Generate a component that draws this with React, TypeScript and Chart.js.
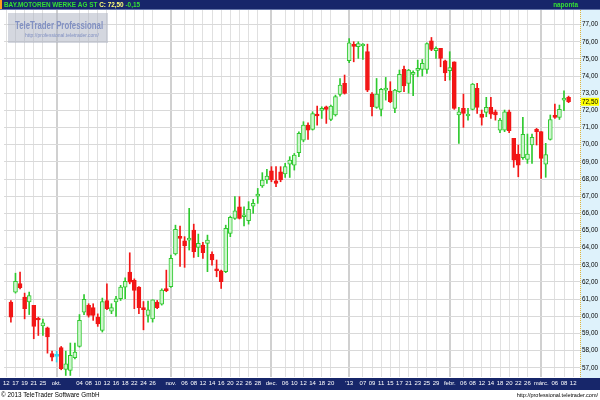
import { useEffect, useRef } from 'react';
import { Chart, registerables } from 'chart.js';

Chart.register(...registerables);

// ---- data (BMW daily candles, Sep 2012 - Mar 2013) ----
const openP = [
  60.83, 61.41, 61.90, 61.12, 60.83, 60.63, 59.85, 59.44, 59.33, 57.82,
  57.66, 58.17, 56.90, 56.84, 57.58, 58.24, 60.24, 60.63, 60.50, 59.95,
  59.17, 60.92, 60.30, 60.83, 61.02, 61.70, 62.57, 62.09, 61.70, 60.50,
  60.05, 59.85, 60.83, 60.71, 61.62, 61.72, 63.63, 64.60, 64.40, 64.44,
  65.02, 64.01, 64.15, 64.25, 63.61, 62.72, 62.65, 62.60, 64.83, 65.70,
  66.38, 65.80, 65.57, 66.42, 67.00, 67.59, 67.94, 68.48, 67.90, 68.42,
  68.29, 68.87, 68.81, 69.53, 70.27, 71.14, 70.89, 71.78, 72.00, 72.21,
  71.47, 71.73, 72.93, 73.57, 74.89, 75.81, 75.71, 75.75, 75.42, 72.95,
  72.17, 72.06, 73.18, 73.12, 72.12, 73.09, 74.39, 73.57, 74.10, 74.33,
  74.39, 74.39, 76.06, 75.48, 75.61, 74.89, 74.31, 74.83, 71.73, 72.12,
  71.67, 72.06, 73.28, 71.78, 71.88, 72.17, 71.92, 70.85, 70.85, 71.92,
  70.37, 69.45, 69.24, 69.14, 69.98, 70.89, 70.76, 68.87, 70.31, 71.67,
  71.59, 72.60, 72.76,
];
const highP = [
  60.92, 62.51, 62.57, 61.35, 61.41, 60.63, 59.95, 59.83, 59.37, 57.97,
  57.97, 58.24, 57.97, 58.44, 58.44, 60.10, 61.27, 60.73, 60.73, 60.14,
  61.06, 61.89, 60.73, 61.16, 61.80, 62.24, 63.70, 62.18, 61.73, 60.86,
  60.88, 60.96, 60.92, 61.60, 62.69, 63.57, 65.31, 65.26, 64.64, 66.29,
  65.37, 64.79, 64.31, 64.73, 63.76, 63.28, 62.69, 65.31, 65.84, 66.97,
  66.97, 66.38, 66.68, 66.81, 67.45, 68.37, 68.56, 68.72, 68.72, 68.72,
  68.91, 69.30, 69.49, 70.75, 71.34, 71.28, 71.92, 72.25, 72.21, 72.25,
  72.31, 72.89, 73.86, 74.06, 76.19, 76.00, 76.00, 75.90, 75.86, 73.03,
  73.86, 73.28, 73.92, 73.67, 73.22, 74.35, 74.58, 74.39, 74.30, 74.93,
  74.97, 75.94, 76.25, 75.71, 75.61, 74.93, 75.42, 74.83, 72.17, 72.95,
  72.12, 73.57, 73.57, 72.02, 72.76, 72.76, 72.02, 71.53, 72.02, 72.02,
  70.37, 69.98, 71.59, 70.62, 70.62, 70.95, 70.76, 70.08, 71.73, 72.37,
  72.31, 73.14, 72.83,
];
const lowP = [
  59.66, 61.35, 61.60, 59.85, 60.10, 58.69, 58.88, 58.88, 57.85, 57.39,
  57.33, 56.88, 56.55, 56.55, 57.52, 58.20, 60.10, 59.95, 59.76, 59.41,
  59.08, 60.38, 60.15, 59.99, 60.92, 61.02, 61.89, 60.44, 60.15, 59.21,
  59.66, 59.66, 60.44, 60.65, 61.43, 61.68, 63.57, 62.90, 62.85, 63.86,
  63.43, 63.47, 63.37, 62.60, 62.98, 62.30, 61.62, 62.54, 64.64, 65.65,
  65.67, 65.26, 65.37, 66.00, 66.58, 67.51, 67.74, 67.84, 67.55, 67.84,
  68.09, 68.09, 68.52, 69.30, 70.17, 70.31, 70.85, 71.14, 71.53, 71.24,
  71.40, 71.67, 72.83, 72.95, 74.78, 74.83, 75.03, 74.97, 73.09, 71.67,
  72.12, 71.67, 72.60, 72.45, 71.86, 73.05, 73.09, 73.00, 72.85, 73.96,
  74.00, 74.16, 75.48, 75.03, 74.54, 73.73, 73.77, 72.06, 70.08, 71.01,
  71.43, 72.02, 71.82, 71.14, 71.63, 71.53, 71.43, 70.70, 70.76, 70.70,
  68.68, 68.13, 69.14, 68.91, 68.91, 69.98, 68.04, 68.10, 70.27, 71.53,
  71.47, 71.98, 72.45,
];
const closeP = [
  59.95, 62.03, 61.66, 60.44, 61.21, 59.41, 59.78, 59.62, 58.79, 57.62,
  57.66, 56.94, 57.23, 57.72, 57.91, 59.76, 60.98, 60.05, 60.05, 59.56,
  60.86, 60.44, 60.50, 61.02, 61.70, 62.03, 61.99, 61.50, 60.50, 60.38,
  60.38, 60.96, 60.50, 61.53, 61.49, 63.37, 65.06, 64.54, 64.11, 64.48,
  63.76, 64.25, 63.70, 64.44, 63.28, 62.65, 62.01, 65.12, 65.76, 66.15,
  65.70, 65.84, 66.23, 66.58, 67.08, 67.94, 68.17, 67.94, 67.74, 67.94,
  68.72, 69.10, 69.40, 70.66, 71.14, 70.85, 71.82, 71.67, 72.06, 72.06,
  72.25, 72.80, 73.47, 72.99, 75.94, 75.73, 75.90, 75.81, 73.18, 72.21,
  72.95, 73.22, 73.24, 72.50, 73.18, 74.10, 73.42, 74.35, 74.20, 74.39,
  74.74, 75.90, 75.55, 75.61, 75.03, 74.19, 74.50, 72.12, 71.92, 71.82,
  71.78, 73.53, 72.17, 71.59, 72.17, 71.78, 71.73, 71.43, 71.92, 70.81,
  69.10, 68.81, 70.60, 69.45, 70.43, 70.76, 69.20, 69.43, 71.47, 71.59,
  72.06, 72.65, 72.50,
];

// x-axis day slots (one per trading day shown; '' = unlabelled day)
const xLabels = [
  '12', '', '17', '', '19', '', '21', '', '25', '', '', 'okt.', '', '', '', '', '04', '', '08', '',
  '10', '', '12', '', '16', '', '18', '', '22', '', '24', '', '26', '', '', '', 'nov.', '', '', '06',
  '', '08', '', '12', '', '14', '', '16', '', '20', '', '22', '', '26', '', '28', '', '', 'dec.', '',
  '', '06', '', '10', '', '12', '', '14', '', '18', '', '20', '', '', '', "'13", '', '', '07', '',
  '09', '', '11', '', '15', '', '17', '', '21', '', '23', '', '25', '', '29', '', '', 'febr.', '', '',
  '06', '', '08', '', '12', '', '14', '', '18', '', '20', '', '22', '', '26', '', '', 'márc.', '', '',
  '06', '', '08', '', '12', '',
];
const monthLabels = ['okt.', 'nov.', 'dec.', "'13", 'febr.', 'márc.'];
const firstCandleSlot = 1;

const yMin = 56.46;
const yMax = 77.85;

const titleText = 'BAY.MOTOREN WERKE AG ST';
const closeText = 'C: 72,50';
const changeText = '-0,15';
const lastPrice = 72.5;
const periodText = 'naponta';
const copyrightText = '© 2013 TeleTrader Software GmbH';
const urlText = 'http://professional.teletrader.com/';
const brandText = 'TeleTrader Professional';

const FONT = "'Liberation Sans', Arial, sans-serif";
const NAVY = '#17266a';
const UP_FILL = '#cdf5cd';
const UP_LINE = '#2fc92f';
const DOWN = '#f21616';
const FLAT = '#30d6ee';

const fmt = (v: number) => v.toFixed(2).replace('.', ',');

const framePlugin = {
  id: 'ttFrame',
  beforeDraw(chart: any) {
    const { ctx, chartArea: a, width, height } = chart;
    ctx.save();
    ctx.fillStyle = '#ffffff';
    ctx.fillRect(0, 0, width, height);
    // right price panel
    ctx.fillStyle = '#def2fb';
    ctx.fillRect(a.right, a.top, width - a.right, a.bottom - a.top + 1);
    // date band
    ctx.fillStyle = NAVY;
    ctx.fillRect(0, a.bottom + 1, width, 12);
    ctx.restore();
  },
  afterDraw(chart: any) {
    const { ctx, chartArea: a, width } = chart;
    const yScale = chart.scales.y;
    ctx.save();
    // dotted yellow separator
    ctx.strokeStyle = '#e2b53a';
    ctx.lineWidth = 1;
    ctx.setLineDash([1, 1]);
    ctx.beginPath();
    ctx.moveTo(a.right + 0.5, a.top);
    ctx.lineTo(a.right + 0.5, a.bottom);
    ctx.stroke();
    ctx.setLineDash([]);

    // last price marker
    const py = yScale.getPixelForValue(lastPrice);
    ctx.fillStyle = '#ffff00';
    ctx.fillRect(a.right + 1, py - 4, 18, 8);
    ctx.fillStyle = '#000000';
    ctx.font = `6.4px ${FONT}`;
    ctx.textBaseline = 'middle';
    ctx.textAlign = 'left';
    ctx.fillText(fmt(lastPrice), a.right + 2, py + 0.5);

    // header band
    ctx.fillStyle = NAVY;
    ctx.fillRect(0, 0, width, 9);
    ctx.fillStyle = '#6677aa';
    ctx.fillRect(0, 9, width, 1);
    ctx.fillStyle = '#ff9d1c';
    ctx.fillRect(0, 0, 2, 9);
    ctx.textBaseline = 'alphabetic';
    ctx.font = `bold 6.4px ${FONT}`;
    let x = 4;
    ctx.fillStyle = '#34e034';
    ctx.fillText(titleText, x, 7);
    x += ctx.measureText(titleText + ' ').width;
    ctx.fillStyle = '#ffff78';
    ctx.fillText(closeText, x, 7);
    x += ctx.measureText(closeText + ' ').width;
    ctx.fillStyle = '#34e034';
    ctx.fillText(changeText, x, 7);
    ctx.textAlign = 'right';
    ctx.fillText(periodText, 578, 7);

    // watermark
    ctx.fillStyle = 'rgba(170,175,192,0.5)';
    ctx.fillRect(8, 13, 100, 30);
    ctx.fillStyle = '#8190c2';
    ctx.textAlign = 'left';
    ctx.save();
    ctx.translate(15, 29);
    ctx.scale(0.68, 1);
    ctx.font = `bold 11.5px ${FONT}`;
    ctx.fillText(brandText, 0, 0);
    ctx.restore();
    ctx.font = `5px ${FONT}`;
    ctx.fillText(urlText, 25, 37);

    // footer
    ctx.fillStyle = '#000000';
    ctx.font = `6.3px ${FONT}`;
    ctx.textAlign = 'left';
    ctx.fillText(copyrightText, 1, 397);
    ctx.font = `5.5px ${FONT}`;
    ctx.textAlign = 'right';
    ctx.fillText(urlText, 598, 397);
    ctx.restore();
  },
};

export default function App() {
  const ref = useRef<HTMLCanvasElement>(null);

  useEffect(() => {
    if (!ref.current) return;
    const n = openP.length;
    const idx = (j: number) => j - firstCandleSlot;
    const has = (j: number) => idx(j) >= 0 && idx(j) < n;
    const kind = (j: number) => {
      const i = idx(j);
      if (closeP[i] > openP[i]) return 'up';
      if (closeP[i] < openP[i]) return 'down';
      return 'flat';
    };
    const bodies = xLabels.map((_, j) =>
      has(j) ? [Math.min(openP[idx(j)], closeP[idx(j)]), Math.max(openP[idx(j)], closeP[idx(j)])] : null
    );
    const wicks = xLabels.map((_, j) => (has(j) ? [lowP[idx(j)], highP[idx(j)]] : null));
    const bodyFill = xLabels.map((_, j) =>
      !has(j) ? 'transparent' : kind(j) === 'up' ? UP_FILL : kind(j) === 'down' ? DOWN : FLAT
    );
    const bodyLine = xLabels.map((_, j) =>
      !has(j) ? 'transparent' : kind(j) === 'up' ? UP_LINE : kind(j) === 'down' ? DOWN : FLAT
    );

    const chart = new Chart(ref.current, {
      type: 'bar',
      data: {
        labels: xLabels,
        datasets: [
          {
            label: 'body',
            data: bodies as any,
            backgroundColor: bodyFill,
            borderColor: bodyLine,
            borderWidth: 1,
            borderSkipped: false,
            barThickness: 4,
            minBarLength: 2,
            grouped: false,
          } as any,
          {
            label: 'wick',
            data: wicks as any,
            backgroundColor: bodyLine,
            borderWidth: 0,
            barThickness: 1,
            grouped: false,
          } as any,
        ],
      },
      options: {
        responsive: false,
        animation: false,
        devicePixelRatio: 1,
        layout: { padding: { top: 10, bottom: 10, left: 0, right: 0 } },
        plugins: { legend: { display: false }, tooltip: { enabled: false } },
        scales: {
          x: {
            type: 'category',
            offset: true,
            border: { display: false },
            grid: {
              offset: false,
              drawTicks: false,
              color: (c: any) =>
                !xLabels[c.index] ? 'transparent' : monthLabels.includes(xLabels[c.index]) ? '#d0d0d0' : '#e0e0e0',
              lineWidth: (c: any) => (monthLabels.includes(xLabels[c.index]) ? 2 : 1),
            },
            ticks: {
              autoSkip: false,
              maxRotation: 0,
              minRotation: 0,
              padding: 3,
              color: '#ffffff',
              font: { size: 6, family: FONT },
              callback: (_v: any, i: number) => xLabels[i],
            },
            afterFit: (s: any) => {
              s.height = 13;
            },
          },
          y: {
            position: 'right',
            min: yMin,
            max: yMax,
            border: { display: false },
            grid: { color: '#d9d9d9', drawTicks: false },
            ticks: {
              stepSize: 1,
              includeBounds: false,
              autoSkip: false,
              padding: 2,
              color: '#000000',
              font: { size: 6.4, family: FONT },
              callback: (v: any) => fmt(Number(v)),
            },
            afterFit: (s: any) => {
              s.width = 20;
            },
          },
        },
      } as any,
      plugins: [framePlugin],
    });
    return () => chart.destroy();
  }, []);

  return (
    <div style={{ position: 'fixed', left: 0, top: 0, width: 600, height: 400, background: '#ffffff' }}>
      <canvas ref={ref} width={600} height={400} style={{ width: 600, height: 400, display: 'block' }} />
    </div>
  );
}
